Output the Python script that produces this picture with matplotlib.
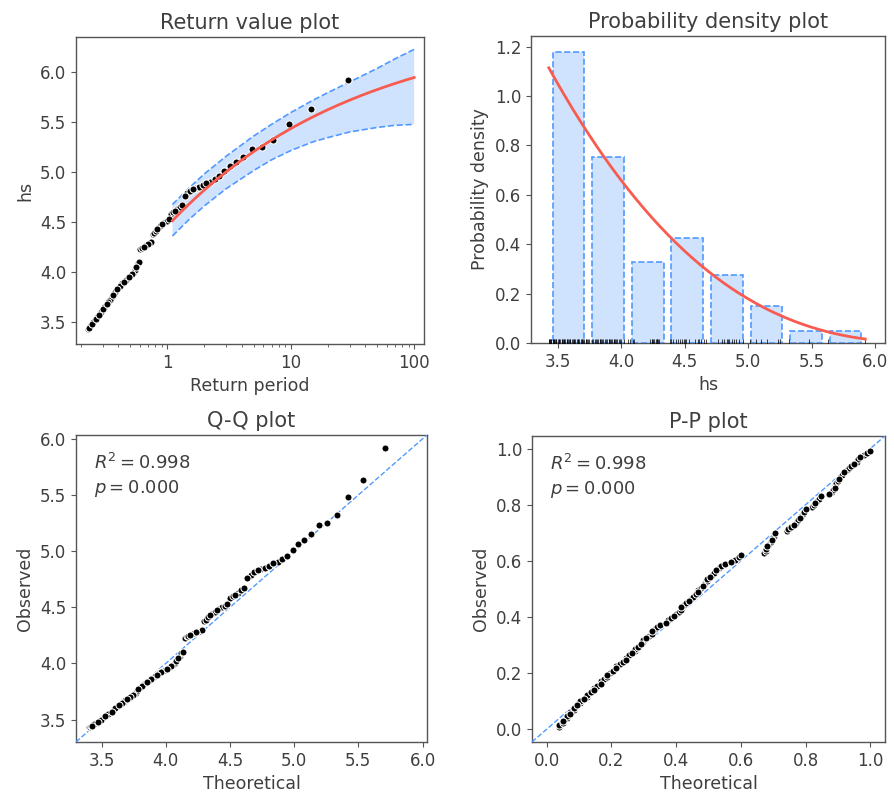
import numpy as np
import pandas as pd
import matplotlib
matplotlib.use("Agg")
import matplotlib.pyplot as plt
from matplotlib.ticker import FixedLocator, FuncFormatter, LogLocator, NullFormatter

# ---------------- data ----------------
hs = [
    3.43, 3.43, 3.44, 3.44, 3.45, 3.45, 3.46, 3.46, 3.47, 3.47,
    3.48, 3.49, 3.49, 3.50, 3.51, 3.51, 3.52, 3.53, 3.53, 3.54,
    3.55, 3.55, 3.56, 3.57, 3.57, 3.58, 3.59, 3.60, 3.60, 3.61,
    3.62, 3.63, 3.63, 3.64, 3.65, 3.66, 3.66, 3.67, 3.68, 3.69,
    3.69, 3.70, 3.71, 3.72, 3.72, 3.73, 3.74,
    3.75, 3.77, 3.78, 3.79, 3.80, 3.81, 3.82, 3.83, 3.83, 3.84,
    3.85, 3.86, 3.87, 3.88, 3.89, 3.90, 3.90, 3.91, 3.92, 3.93,
    3.94, 3.94, 3.95, 3.96, 3.97, 3.98, 3.99, 4.00, 4.02, 4.05,
    4.07, 4.09, 4.10, 4.23, 4.24, 4.24, 4.25, 4.26, 4.27, 4.28,
    4.28, 4.29, 4.30,
    4.38, 4.39, 4.41, 4.43, 4.45, 4.46, 4.48, 4.49, 4.50, 4.51,
    4.53, 4.58, 4.60, 4.61, 4.63, 4.65, 4.67,
    4.76, 4.79, 4.81, 4.83, 4.84, 4.85, 4.87, 4.89, 4.90, 4.93, 4.96,
    5.01, 5.06, 5.10, 5.15, 5.23, 5.25,
    5.32, 5.48,
    5.63, 5.92,
]

# fitted GPD model (threshold / shape / scale) and extremes rate per year
threshold = 3.395
shape = -0.28
scale = 0.872
extremes_rate = 4.45

# bootstrap confidence interval of the return values
ci_return_period = [1.1, 1.5, 2, 3, 5, 7, 10, 15, 20, 30, 50, 70, 100]
ci_lower = [4.36, 4.525, 4.662, 4.833, 5.014, 5.122, 5.214, 5.30, 5.344, 5.40, 5.445, 5.467, 5.476]
ci_upper = [4.675, 4.84, 4.982, 5.158, 5.359, 5.477, 5.594, 5.715, 5.794, 5.90, 6.035, 6.132, 6.226]

r_squared = 0.998
p_value = 0.000

# ---------------- style ----------------
TXT = "#3f3f3f"
EDGE = "#555555"
BLUE = "#5199FF"
RED = "#F85C50"
plt.rcParams.update({
    "font.family": "DejaVu Sans",
    "text.color": TXT,
    "axes.labelcolor": TXT,
    "axes.edgecolor": EDGE,
    "xtick.color": EDGE,
    "ytick.color": EDGE,
    "xtick.labelcolor": TXT,
    "ytick.labelcolor": TXT,
    "xtick.labelsize": 12,
    "ytick.labelsize": 12,
    "axes.labelsize": 12.5,
    "axes.titlesize": 15,
    "axes.linewidth": 1.0,
})


def gpd_ppf(p):
    return threshold + scale / shape * ((1 - p) ** (-shape) - 1)


def gpd_cdf(x):
    return 1 - (1 + shape * (x - threshold) / scale) ** (-1 / shape)


def gpd_pdf(x):
    return (1 / scale) * (1 + shape * (x - threshold) / scale) ** (-1 / shape - 1)


obs = np.sort(np.asarray(hs, dtype=float))
n = len(obs)
pp = np.arange(1, n + 1) / (n + 1)
theoretical = gpd_ppf(pp)
# return periods of observed values (weibull plotting position, average ranks)
exceed_rank = n + 1 - pd.Series(obs).rank(method="average").to_numpy()
return_periods = (n + 1) / exceed_rank / extremes_rate

# drawing order interleaved (like a time series rather than sorted)
order = (np.arange(n) * 45) % n

fig = plt.figure(figsize=(8.95, 7.95), dpi=100)
ax_rv = fig.add_axes([0.0849, 0.5673, 0.3888, 0.3862])
ax_pdf = fig.add_axes([0.5933, 0.5686, 0.3955, 0.3862])
ax_qq = fig.add_axes([0.0849, 0.0667, 0.3922, 0.3862])
ax_pp = fig.add_axes([0.5944, 0.0667, 0.3944, 0.3850])

sc_kw = dict(marker="o", s=26, lw=0.75, facecolor="k", edgecolor="w", zorder=15)

# ---------- Return value plot ----------
ax_rv.set_xscale("log")
T = np.geomspace(ci_return_period[0], ci_return_period[-1], 200)
rv = gpd_ppf(1 - 1 / (extremes_rate * T))
ax_rv.fill_between(ci_return_period, ci_lower, ci_upper, facecolor=BLUE,
                   edgecolor="none", alpha=0.27, zorder=10)
ax_rv.plot(ci_return_period, ci_lower, color=BLUE, lw=1.2, ls="--", zorder=15)
ax_rv.plot(ci_return_period, ci_upper, color=BLUE, lw=1.2, ls="--", zorder=15)
ax_rv.scatter(return_periods[order], obs[order], **sc_kw)
ax_rv.plot(T, rv, color=RED, lw=2, zorder=20)
ax_rv.set_xlim(0.182, 120)
ax_rv.set_ylim(3.28, 6.35)
ax_rv.xaxis.set_major_locator(FixedLocator([1, 10, 100]))
ax_rv.xaxis.set_major_formatter(FuncFormatter(lambda v, p: f"{v:g}"))
ax_rv.xaxis.set_minor_locator(LogLocator(base=10, subs=np.arange(2, 10)))
ax_rv.xaxis.set_minor_formatter(NullFormatter())
ax_rv.yaxis.set_major_locator(FixedLocator([3.5, 4.0, 4.5, 5.0, 5.5, 6.0]))
ax_rv.set_title("Return value plot")
ax_rv.set_xlabel("Return period")
ax_rv.set_ylabel("hs")

# ---------- Probability density plot ----------
ax_pdf.hist(obs, bins=8, density=True, rwidth=0.8,
            facecolor=(0x51 / 255, 0x99 / 255, 1.0, 0.27),
            edgecolor=BLUE, lw=1.2, ls="--", zorder=10)
support = np.linspace(obs.min(), obs.max(), 200)
ax_pdf.plot(support, gpd_pdf(support), color=RED, lw=2, zorder=20)
ax_pdf.scatter(obs, np.zeros(n), marker="|", s=40, color="k", lw=0.5, zorder=15)
ax_pdf.set_xlim(3.29, 6.075)
ax_pdf.set_ylim(0, 1.243)
ax_pdf.xaxis.set_major_locator(FixedLocator([3.5, 4.0, 4.5, 5.0, 5.5, 6.0]))
ax_pdf.yaxis.set_major_locator(FixedLocator([0.0, 0.2, 0.4, 0.6, 0.8, 1.0, 1.2]))
ax_pdf.set_title("Probability density plot")
ax_pdf.set_xlabel("hs")
ax_pdf.set_ylabel("Probability density")

# ---------- Q-Q plot ----------
qlim = (3.30, 6.035)
ax_qq.plot(qlim, qlim, color=BLUE, lw=1, ls="--", zorder=5)
ax_qq.scatter(theoretical[order], obs[order], **sc_kw)
ax_qq.set_xlim(qlim)
ax_qq.set_ylim(qlim)
ax_qq.xaxis.set_major_locator(FixedLocator([3.5, 4.0, 4.5, 5.0, 5.5, 6.0]))
ax_qq.yaxis.set_major_locator(FixedLocator([3.5, 4.0, 4.5, 5.0, 5.5, 6.0]))
ax_qq.set_title("Q-Q plot")
ax_qq.set_xlabel("Theoretical")
ax_qq.set_ylabel("Observed")
stats_txt = f"$R^2={r_squared:.3f}$\n$p={p_value:.3f}$"
ax_qq.text(0.05, 0.94, stats_txt, transform=ax_qq.transAxes, ha="left", va="top",
           fontsize=13, linespacing=1.3)

# ---------- P-P plot ----------
plim = (-0.045, 1.045)
ax_pp.plot(plim, plim, color=BLUE, lw=1, ls="--", zorder=5)
ax_pp.scatter(gpd_cdf(obs)[order], pp[order], **sc_kw)
ax_pp.set_xlim(plim)
ax_pp.set_ylim(plim)
ax_pp.xaxis.set_major_locator(FixedLocator([0.0, 0.2, 0.4, 0.6, 0.8, 1.0]))
ax_pp.yaxis.set_major_locator(FixedLocator([0.0, 0.2, 0.4, 0.6, 0.8, 1.0]))
ax_pp.set_title("P-P plot")
ax_pp.set_xlabel("Theoretical")
ax_pp.set_ylabel("Observed")
ax_pp.text(0.05, 0.94, stats_txt, transform=ax_pp.transAxes, ha="left", va="top",
           fontsize=13, linespacing=1.3)

fig.savefig("out.png", dpi=100)
